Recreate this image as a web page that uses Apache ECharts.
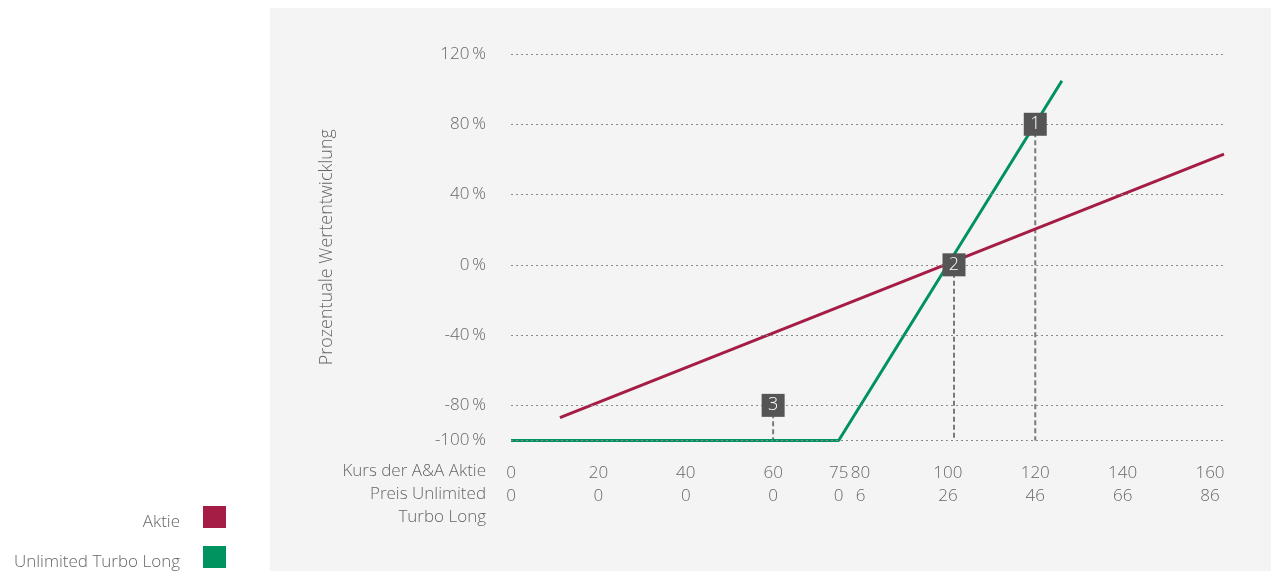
<!DOCTYPE html>
<html>
<head>
<meta charset="utf-8">
<script src="https://cdn.jsdelivr.net/npm/echarts@6/dist/echarts.min.js"></script>
<style>
html,body{margin:0;padding:0;background:#fff;}
#chart{width:1271px;height:571px;}
</style>
</head>
<body>
<div id="chart"></div>
<script>
// ---- data ----
const stockTicks = [0, 20, 40, 60, 75, 80, 100, 120, 140, 160];
const turboPriceTicks = [0, 0, 0, 0, 0, 6, 26, 46, 66, 86];
const yTicks = [-100, -80, -40, 0, 40, 80, 120];
const aktieData = [[11.2, -87], [163.2, 63]];
const turboData = [[0, -100], [75, -100], [126.1, 104.8]];
const markerLabels = ['1', '2', '3'];
const markerX = [120, 101.4, 60];
const markerY = [80, 0, -80];
const seriesNames = ['Aktie', 'Unlimited Turbo Long'];
const rowTitles = ['Kurs der A&A Aktie', 'Preis Unlimited', 'Turbo Long'];
const yTitle = 'Prozentuale Wertentwicklung';

const FONT = "'Open Sans', sans-serif";
const FS = 17;
const TXT = '#666666';
const RED = '#a51d45';
const GREEN = '#00935f';

const chart = echarts.init(document.getElementById('chart'));

const dashedSeries = markerX.map((x, i) => ({
  type: 'line',
  silent: true,
  symbol: 'none',
  z: 1,
  lineStyle: { color: '#7a7a7a', width: 2, type: [5, 3] },
  data: [[x, markerY[i]], [x, yTicks[0]]],
  tooltip: { show: false }
}));

const txt = (s, y) => ({ type: 'text', x: 486, y: y, silent: true,
  style: { text: s, align: 'right', verticalAlign: 'middle', fill: TXT, font: '300 ' + FS + 'px ' + FONT } });

const legendText = {
  fontSize: FS, color: TXT, fontWeight: 300, fontFamily: FONT, padding: [0, 18, 0, 0],
  rich: { a: { fontSize: FS, color: TXT, fontWeight: 300, fontFamily: FONT, padding: [10, 0, 0, 0] } }
};

const option = {
  animation: false,
  textStyle: { fontFamily: FONT },
  graphic: [
    { type: 'rect', z: -10, silent: true, shape: { x: 270, y: 8, width: 1001, height: 563 }, style: { fill: '#f4f4f4' } },
    txt(rowTitles[0], 471),
    txt(rowTitles[1], 494),
    txt(rowTitles[2], 517)
  ],
  legend: [
    { data: [seriesNames[0]], right: 1045, top: 506, align: 'right', icon: 'rect', itemWidth: 23, itemHeight: 22, padding: 0,
      formatter: '{a|{name}}', textStyle: legendText },
    { data: [seriesNames[1]], right: 1045, top: 546, align: 'right', icon: 'rect', itemWidth: 23, itemHeight: 22, padding: 0,
      formatter: '{a|{name}}', textStyle: legendText }
  ],
  grid: { left: 511, right: 47, top: 54, bottom: 130.5, containLabel: false },
  xAxis: {
    type: 'value', min: 0, max: 163.2,
    axisLine: { show: false }, axisTick: { show: false }, splitLine: { show: false },
    axisLabel: {
      customValues: stockTicks,
      margin: 21,
      color: TXT, fontSize: FS, fontWeight: 300, fontFamily: FONT, lineHeight: 23,
      formatter: v => { const i = stockTicks.indexOf(v); return v + '\n' + (i >= 0 ? turboPriceTicks[i] : ''); }
    }
  },
  yAxis: {
    type: 'value', min: -100, max: 120,
    name: yTitle, nameLocation: 'middle', nameGap: 175, nameRotate: 90,
    nameTextStyle: { color: TXT, fontSize: 18, fontWeight: 300, fontFamily: FONT },
    axisLine: { show: false }, axisTick: { show: false }, splitLine: { show: false },
    axisLabel: {
      customValues: yTicks, margin: 25, color: TXT, fontSize: FS, fontWeight: 300, fontFamily: FONT,
      formatter: v => v + '\u2009%'
    }
  },
  series: [
    {
      name: '__grid', type: 'line', data: [], silent: true, z: 0,
      markLine: {
        silent: true, symbol: 'none', label: { show: false },
        lineStyle: { color: '#8a8a8a', width: 1, type: [2, 3] },
        data: yTicks.map(v => ({ yAxis: v }))
      }
    },
    ...dashedSeries,
    {
      name: seriesNames[0], type: 'line', symbol: 'none', z: 3,
      itemStyle: { color: RED }, lineStyle: { color: RED, width: 3 },
      data: aktieData
    },
    {
      name: seriesNames[1], type: 'line', symbol: 'none', z: 2,
      itemStyle: { color: GREEN }, lineStyle: { color: GREEN, width: 3 },
      data: turboData
    },
    {
      name: '__markers', type: 'scatter', z: 5, symbol: 'rect', symbolSize: 23,
      itemStyle: { color: '#555555', opacity: 1 },
      label: { show: true, position: 'inside', color: '#fff', fontSize: 18, fontWeight: 300, fontFamily: FONT,
        formatter: p => markerLabels[p.dataIndex] },
      data: markerX.map((x, i) => [x, markerY[i]])
    }
  ]
};
chart.setOption(option);
</script>
</body>
</html>
